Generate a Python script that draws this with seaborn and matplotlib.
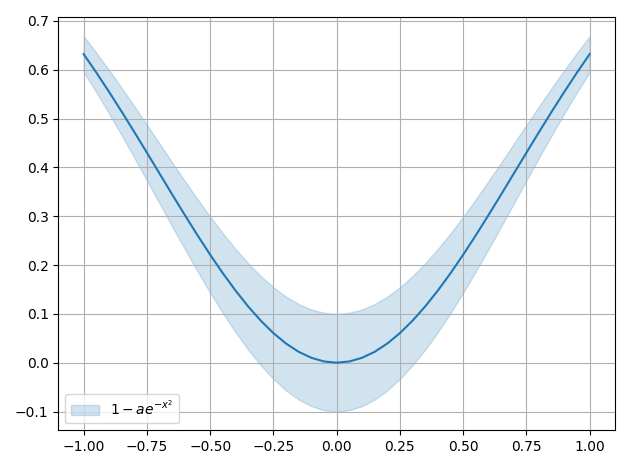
import matplotlib
matplotlib.use('Agg')
import matplotlib.pyplot as plt
import numpy as np
import seaborn as sns

# values for x >= 0, mirrored for x < 0
x_half = [0.00, 0.05, 0.10, 0.15, 0.20, 0.25, 0.30, 0.35, 0.40, 0.45, 0.50,
          0.55, 0.60, 0.65, 0.70, 0.75, 0.80, 0.85, 0.90, 0.95, 1.00]
y_half = [0.000, 0.0025, 0.0100, 0.0222, 0.0392, 0.0606, 0.0861, 0.1153, 0.1479, 0.1833, 0.2212,
          0.2610, 0.3023, 0.3445, 0.3874, 0.4302, 0.4727, 0.5144, 0.5551, 0.5944, 0.6321]
# band half-width at the same x positions
w_half = [0.100, 0.0998, 0.0990, 0.0978, 0.0961, 0.0939, 0.0914, 0.0885, 0.0852, 0.0817, 0.0779,
          0.0739, 0.0698, 0.0655, 0.0613, 0.0570, 0.0527, 0.0486, 0.0445, 0.0406, 0.0368]

x = np.array([-v for v in x_half[:0:-1]] + x_half)
y = np.array(y_half[:0:-1] + y_half)
w = np.array(w_half[:0:-1] + w_half)

fig, ax = plt.subplots(figsize=(6.3, 4.69), dpi=100)
ax.fill_between(x, y - w, y + w, color='C0', alpha=0.2, label=r'$1 - ae^{-x^2}$')
sns.lineplot(x=x, y=y, ax=ax, color='C0', linewidth=1.5)
ax.grid(True)
ax.set_yticks([-0.1, 0.0, 0.1, 0.2, 0.3, 0.4, 0.5, 0.6, 0.7])
ax.legend(loc='lower left')
plt.tight_layout()
plt.savefig('out.png', dpi=100)
